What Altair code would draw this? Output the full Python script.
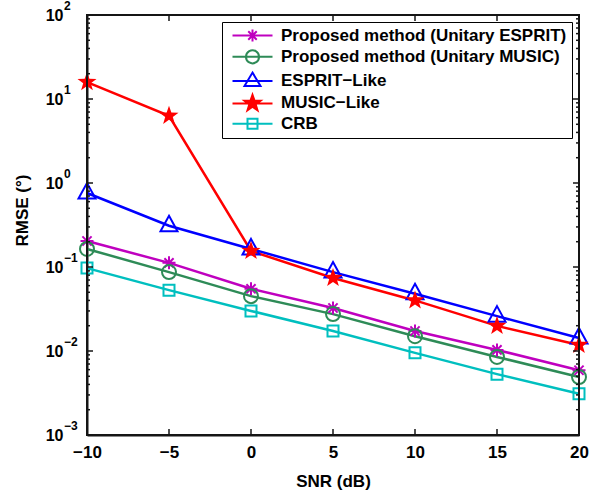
import altair as alt
import pandas as pd
import numpy as np

# ---------------- data ----------------
snr = [-10, -5, 0, 5, 10, 15, 20]
series_names = [
    "Proposed method (Unitary ESPRIT)",
    "Proposed method (Unitary MUSIC)",
    "ESPRIT\u2212Like",
    "MUSIC\u2212Like",
    "CRB",
]
u_esprit = [0.204, 0.112, 0.055, 0.0325, 0.0173, 0.0103, 0.0059]
u_music = [0.164, 0.087, 0.045, 0.0275, 0.0150, 0.0085, 0.0049]
esprit_like = [0.76, 0.31, 0.164, 0.087, 0.048, 0.026, 0.0143]
music_like = [15.9, 6.3, 0.155, 0.074, 0.040, 0.0199, 0.0118]
crb = [0.097, 0.053, 0.030, 0.0173, 0.0095, 0.0053, 0.0031]
all_values = [u_esprit, u_music, esprit_like, music_like, crb]

colors = ["#BF00BF", "#2E8B57", "#0000FF", "#FF0000", "#00BFBF"]

y_decades = [1e-3, 1e-2, 1e-1, 1e0, 1e1, 1e2]
y_exponents = ["\u22123", "\u22122", "\u22121", "0", "1", "2"]
y_minor = [k * 10.0 ** d for d in range(-3, 2) for k in range(2, 10)]
x_inner_ticks = [-5, 0, 5, 10, 15]
x_range = [-10, 20]
y_range = [1e-3, 1e2]

FONT = "Liberation Sans"
INK = "#151515"

# ---------------- one combined table ----------------
rows = []
for name, vals in zip(series_names, all_values):
    for s, v in zip(snr, vals):
        rows.append({"snr": s, "rmse": v, "series": name, "kind": "data", "k": 0, "exp": ""})
for i, (s, v) in enumerate(zip([x_range[0], x_range[1], x_range[1], x_range[0], x_range[0]],
                               [y_range[0], y_range[0], y_range[1], y_range[1], y_range[0]])):
    rows.append({"snr": s, "rmse": v, "series": "frame", "kind": "frame", "k": i, "exp": ""})
for v, e in zip(y_decades, y_exponents):
    rows.append({"snr": x_range[0], "rmse": v, "series": "", "kind": "exp", "k": 0, "exp": e})
    rows.append({"snr": x_range[0], "rmse": v, "series": "", "kind": "tL6", "k": 0, "exp": ""})
    rows.append({"snr": x_range[1], "rmse": v, "series": "", "kind": "tR6", "k": 0, "exp": ""})
for v in y_minor:
    rows.append({"snr": x_range[0], "rmse": v, "series": "", "kind": "tL3", "k": 0, "exp": ""})
    rows.append({"snr": x_range[1], "rmse": v, "series": "", "kind": "tR3", "k": 0, "exp": ""})
for s in x_inner_ticks:
    rows.append({"snr": s, "rmse": y_range[1], "series": "", "kind": "tT6", "k": 0, "exp": ""})
    rows.append({"snr": s, "rmse": y_range[0], "series": "", "kind": "tB6", "k": 0, "exp": ""})
for name in series_names:
    rows.append({"snr": 0, "rmse": 1e6, "series": name, "kind": "legend", "k": 0, "exp": ""})
df = pd.DataFrame(rows)


# ---------------- marker paths ----------------
def f(v):
    return f"{v:.4f}"


def asterisk(cx, r, u):
    p = ""
    for a in [0, 45, 90, 135]:
        t = np.deg2rad(a)
        dx, dy = r * np.cos(t), r * np.sin(t)
        p += f"M{f((cx - dx) / u)},{f(-dy / u)}L{f((cx + dx) / u)},{f(dy / u)}"
    return p


def circle(cx, r, u):
    return (f"M{f((cx + r) / u)},0A{f(r / u)},{f(r / u)} 0 1,1 {f((cx - r) / u)},0"
            f"A{f(r / u)},{f(r / u)} 0 1,1 {f((cx + r) / u)},0Z")


def triangle(cx, top, base, hw, u):
    return (f"M{f(cx / u)},{f(-top / u)}L{f((cx + hw) / u)},{f(base / u)}"
            f"L{f((cx - hw) / u)},{f(base / u)}Z")


def star(cx, ro, ri, u):
    pts = []
    for i in range(10):
        r = ro if i % 2 == 0 else ri
        t = np.deg2rad(-90 + 36 * i)
        pts.append(f"{f((cx + r * np.cos(t)) / u)},{f(r * np.sin(t) / u)}")
    return "M" + "L".join(pts) + "Z"


def square(cx, h, u):
    return (f"M{f((cx - h) / u)},{f(-h / u)}L{f((cx + h) / u)},{f(-h / u)}"
            f"L{f((cx + h) / u)},{f(h / u)}L{f((cx - h) / u)},{f(h / u)}Z")


PU = 10.0
plot_paths = [
    asterisk(0, 6.5, PU),
    circle(0, 7, PU),
    triangle(0, 10, 5.5, 8.5, PU),
    star(0, 10, 4, PU),
    square(0, 5.5, PU),
]

LU = 7.0
LCX = 17.0
line_seg = f"M{f(-3 / LU)},0L{f(37 / LU)},0"
legend_paths = [
    line_seg + asterisk(LCX, 6, LU),
    line_seg + circle(LCX, 6.5, LU),
    line_seg + triangle(LCX, 8.5, 5, 8, LU),
    line_seg + star(LCX, 8.5, 3.4, LU) + star(LCX, 5.7, 2.3, LU) + star(LCX, 2.8, 1.1, LU),
    line_seg + square(LCX, 5, LU),
]

# ---------------- encodings ----------------
x_enc = alt.X(
    "snr:Q",
    scale=alt.Scale(domain=x_range, nice=False, zero=False),
    axis=alt.Axis(
        values=snr, format="d", title="SNR (dB)", ticks=False,
        domain=True, domainColor=INK, domainWidth=2, grid=False,
        labelFont=FONT, labelFontSize=17,
        labelFontWeight="bold", labelColor="black", labelPadding=9,
        labelFlush=False, labelOverlap=False,
        titleFont=FONT, titleFontSize=17, titleFontWeight="bold",
        titleColor="black", titleY=46, titleBaseline="middle",
    ),
)
y_enc = alt.Y(
    "rmse:Q",
    scale=alt.Scale(type="log", domain=y_range, nice=False),
    axis=alt.Axis(
        values=y_decades, labelExpr="'10'", title="RMSE (\u00b0)", ticks=False,
        domain=True, domainColor=INK, domainWidth=2, grid=False,
        labelFont=FONT, labelFontSize=16,
        labelFontWeight="bold", labelColor="black", labelPadding=24,
        labelFlush=False, labelOverlap=False,
        titleFont=FONT, titleFontSize=17, titleFontWeight="bold",
        titleColor="black", titleX=-65, titleY=195, titleBaseline="middle",
        titleAngle=270,
    ),
)

base = alt.Chart(df)
color_plain = alt.Color("series:N", scale=alt.Scale(domain=series_names, range=colors), legend=None)

lines = base.transform_filter(alt.datum.kind == "data").mark_line(strokeWidth=2.5).encode(
    x=x_enc, y=y_enc, color=color_plain, detail="series:N"
)

points = base.transform_filter(
    (alt.datum.kind == "data") & (alt.datum.series != series_names[3])
).mark_point(filled=False, size=400, strokeWidth=2, opacity=1).encode(
    x=x_enc, y=y_enc, color=color_plain,
    shape=alt.Shape("series:N", scale=alt.Scale(domain=series_names, range=plot_paths), legend=None),
)

stars = base.transform_filter(
    (alt.datum.kind == "data") & (alt.datum.series == series_names[3])
).mark_point(filled=True, size=400, opacity=1, shape=plot_paths[3], color=colors[3]).encode(
    x=x_enc, y=y_enc
)

exps = base.transform_filter(alt.datum.kind == "exp").mark_text(
    align="left", baseline="middle", dx=-23, dy=-9, fontSize=12,
    fontWeight="bold", font=FONT, color="black",
).encode(x=x_enc, y=y_enc, text="exp:N")

legend_props = dict(
    title=None, orient="none", legendX=135, legendY=7, strokeColor="black",
    fillColor="white", padding=5, rowPadding=-0.7, symbolSize=196,
    symbolStrokeWidth=2, labelFont=FONT, labelFontSize=17, labelFontWeight="bold",
    labelColor="black", labelOffset=37, labelLimit=500, cornerRadius=0,
)
legend_layer = base.transform_filter(alt.datum.kind == "legend").mark_point(
    filled=False, size=196, strokeWidth=2, opacity=1
).encode(
    x=x_enc, y=y_enc,
    color=alt.Color("series:N", scale=alt.Scale(domain=series_names, range=colors),
                    legend=alt.Legend(**legend_props)),
    shape=alt.Shape("series:N", scale=alt.Scale(domain=series_names, range=legend_paths),
                    legend=alt.Legend(**legend_props)),
)

frame = base.transform_filter(alt.datum.kind == "frame").mark_line(
    color=INK, strokeWidth=2, opacity=1
).encode(x=x_enc, y=y_enc, order="k:Q")


def tick_layer(kind, path, length):
    return base.transform_filter(alt.datum.kind == kind).mark_point(
        shape=path, size=length * length, filled=False, strokeWidth=1.5,
        color=INK, opacity=1,
    ).encode(x=x_enc, y=y_enc)


tick_layers = [
    tick_layer("tL6", "M0,0L2,0", 6), tick_layer("tR6", "M0,0L-2,0", 6),
    tick_layer("tL3", "M0,0L2,0", 3), tick_layer("tR3", "M0,0L-2,0", 3),
    tick_layer("tT6", "M0,0L0,2", 6), tick_layer("tB6", "M0,0L0,-2", 6),
]

chart = alt.layer(
    lines, points, stars, exps, legend_layer, frame, *tick_layers
).resolve_scale(
    color="independent", shape="independent"
).properties(
    width=492, height=420,
    autosize=alt.AutoSizeParams(type="none"),
    padding={"left": 87, "top": 15, "right": 23, "bottom": 57},
    background="white",
).configure_view(
    stroke=INK, strokeWidth=2
)

chart.save("out.html", embed_options={"renderer": "svg", "actions": False})
